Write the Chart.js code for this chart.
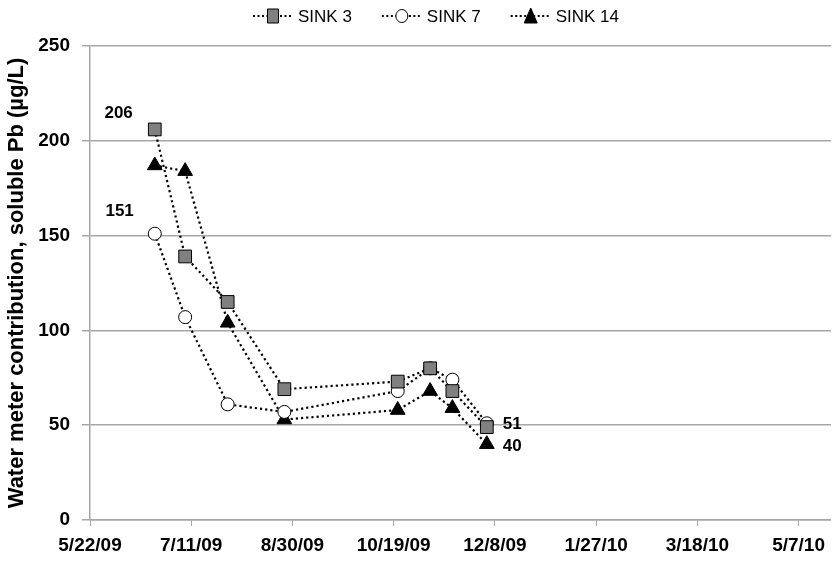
<!DOCTYPE html>
<html>
<head>
<meta charset="utf-8">
<script src="https://cdn.jsdelivr.net/npm/chart.js@4.4.1/dist/chart.umd.min.js"></script>
<style>
  html, body { margin: 0; padding: 0; background: #fff; }
  #wrap { width: 833px; height: 563px; position: relative; }
</style>
</head>
<body>
<div id="wrap"><canvas id="c" width="833" height="563"></canvas></div>
<script>
// Sampling dates (days after 5/22/09) and soluble Pb per sink
const startDate = new Date(2009, 4, 22);
const sampleDays = [32, 47, 68, 96, 152, 168, 179, 196];
const sink3 = [206, 139, 115, 69, 73, 80, 68, 49];
const sink7 = [151, 107, 61, 57, 68, 80, 74, 51];
const sink14 = [187, 184, 104, 53, 58, 68, 59, 40];
const seriesNames = ['SINK 3', 'SINK 7', 'SINK 14'];
const yTicks = [0, 50, 100, 150, 200, 250];
const xTickDays = [0, 50, 100, 150, 200, 250, 300, 350];

// value labels: [series index, point index, text, dx, dy, align]
const valueLabels = [
  [0, 0, '206', -22, -16, 'right'],
  [1, 0, '151', -21, -22, 'right'],
  [1, 7, '51', 16, 1, 'left'],
  [2, 7, '40', 16, 2, 'left']
];

const FONT = '"Liberation Sans", Arial, sans-serif';

function dayLabel(d) {
  const dt = new Date(startDate.getTime() + d * 86400000);
  const yy = String(dt.getFullYear() % 100).padStart(2, '0');
  return (dt.getMonth() + 1) + '/' + dt.getDate() + '/' + yy;
}

function toPoints(vals) {
  return vals.map((v, i) => ({ x: sampleDays[i], y: v }));
}

const lineStyle = {
  borderColor: '#000',
  borderWidth: 2.2,
  borderDash: [2.2, 3],
  tension: 0,
  fill: false
};

const datasets = [
  Object.assign({}, lineStyle, {
    label: seriesNames[0], data: toPoints(sink3),
    pointStyle: 'rect', pointRadius: 9, pointBackgroundColor: '#808080',
    pointBorderColor: '#000', pointBorderWidth: 1
  }),
  Object.assign({}, lineStyle, {
    label: seriesNames[1], data: toPoints(sink7),
    pointStyle: 'circle', pointRadius: 6.5, pointBackgroundColor: '#fff',
    pointBorderColor: '#000', pointBorderWidth: 1
  }),
  Object.assign({}, lineStyle, {
    label: seriesNames[2], data: toPoints(sink14),
    pointStyle: 'triangle', pointRadius: 8.5, pointBackgroundColor: '#000',
    pointBorderColor: '#000', pointBorderWidth: 1
  })
];

// Legend row: dotted line segment with the series marker in the middle
const legendPlugin = {
  id: 'lineMarkerLegend',
  afterDraw(chart) {
    const ctx = chart.ctx;
    ctx.save();
    ctx.font = '17px ' + FONT;
    ctx.textBaseline = 'middle';
    const y = 16;
    const segW = 40, gapText = 5, gapItem = 30;
    let x = 253;
    chart.data.datasets.forEach((ds, i) => {
      ctx.strokeStyle = '#000';
      ctx.lineWidth = 2;
      ctx.setLineDash([2, 2.5]);
      ctx.beginPath();
      ctx.moveTo(x, y);
      ctx.lineTo(x + segW, y);
      ctx.stroke();
      ctx.setLineDash([]);
      const cx = x + segW / 2;
      ctx.fillStyle = ds.pointBackgroundColor;
      ctx.strokeStyle = ds.pointBorderColor;
      ctx.lineWidth = 1;
      ctx.beginPath();
      if (ds.pointStyle === 'rect') {
        ctx.rect(cx - 5.5, y - 7, 11, 14);
      } else if (ds.pointStyle === 'circle') {
        ctx.ellipse(cx, y, 6, 6.5, 0, 0, Math.PI * 2);
      } else {
        ctx.moveTo(cx, y - 8);
        ctx.lineTo(cx + 6.5, y + 7);
        ctx.lineTo(cx - 6.5, y + 7);
        ctx.closePath();
      }
      ctx.fill();
      ctx.stroke();
      ctx.fillStyle = '#000';
      ctx.textAlign = 'left';
      ctx.fillText(seriesNames[i], x + segW + gapText, y + 1);
      x += segW + gapText + ctx.measureText(seriesNames[i]).width + gapItem;
    });
    ctx.restore();
  }
};

// Bold value labels next to selected points
const valueLabelPlugin = {
  id: 'valueLabels',
  afterDatasetsDraw(chart) {
    const ctx = chart.ctx;
    ctx.save();
    ctx.font = 'bold 17px ' + FONT;
    ctx.fillStyle = '#000';
    ctx.textBaseline = 'middle';
    valueLabels.forEach(([si, pi, text, dx, dy, align]) => {
      const el = chart.getDatasetMeta(si).data[pi];
      ctx.textAlign = align;
      ctx.fillText(text, el.x + dx, el.y + dy);
    });
    ctx.restore();
  }
};

new Chart(document.getElementById('c'), {
  type: 'line',
  data: { datasets },
  plugins: [legendPlugin, valueLabelPlugin],
  options: {
    responsive: false,
    animation: false,
    events: [],
    layout: {
      autoPadding: false,
      padding: { top: 46, right: 0, left: 0, bottom: 0 }
    },
    plugins: {
      legend: { display: false },
      tooltip: { enabled: false }
    },
    scales: {
      x: {
        type: 'linear',
        min: 0,
        max: 366,
        afterBuildTicks(scale) {
          scale.ticks = xTickDays.map(v => ({ value: v }));
        },
        afterFit(scale) {
          scale.height = 43;
        },
        grid: {
          drawOnChartArea: false,
          drawTicks: true,
          tickLength: 6,
          color: '#a6a6a6'
        },
        border: { color: '#a6a6a6', width: 1.5 },
        ticks: {
          autoSkip: false,
          maxRotation: 0,
          padding: 8,
          color: '#000',
          font: { family: FONT, size: 19, weight: 'bold' },
          callback: v => dayLabel(v)
        }
      },
      y: {
        min: 0,
        max: 250,
        afterBuildTicks(scale) {
          scale.ticks = yTicks.map(v => ({ value: v }));
        },
        afterFit(scale) {
          scale.width = 90;
        },
        grid: {
          color: '#a6a6a6',
          lineWidth: 1.5,
          drawTicks: true,
          tickLength: 8
        },
        border: { color: '#a6a6a6', width: 1.5 },
        ticks: {
          padding: 12,
          color: '#000',
          font: { family: FONT, size: 19, weight: 'bold' }
        },
        title: {
          display: true,
          text: 'Water meter contribution, soluble Pb (µg/L)',
          color: '#000',
          font: { family: FONT, size: 22, weight: 'bold' },
          padding: { top: 4, bottom: 0 }
        }
      }
    }
  }
});
</script>
</body>
</html>
